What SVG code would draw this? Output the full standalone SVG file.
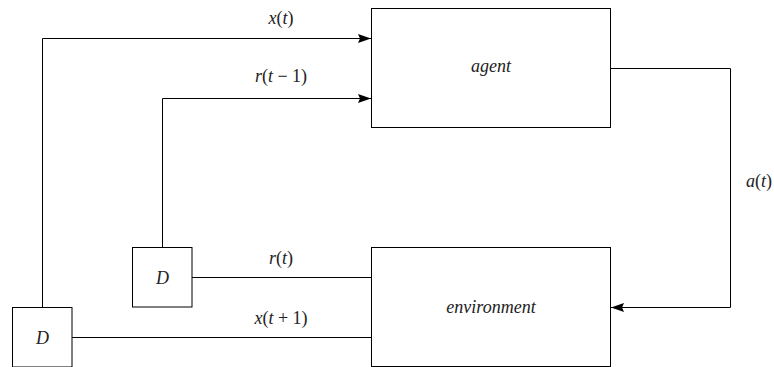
<svg xmlns="http://www.w3.org/2000/svg" width="774" height="367" viewBox="0 0 774 367">
<style>
.box{fill:#fff;stroke:#000;stroke-width:1}
.ln{fill:none;stroke:#000;stroke-width:1}
text{font-family:"Liberation Serif","Times New Roman",serif;font-size:18px;fill:#222;text-anchor:middle}
.i{font-style:italic}
</style>
<defs>
<marker id="arr" markerWidth="14" markerHeight="10" refX="13" refY="4.5" orient="auto" markerUnits="userSpaceOnUse">
<path d="M0,0 L13,4.5 L0,9 L2,4.5 Z" fill="#000"/>
</marker>
</defs>
<g id="connectors">
<polyline class="ln" points="42.5,307 42.5,38.5 371,38.5" marker-end="url(#arr)"/>
<polyline class="ln" points="162.5,247.5 162.5,98.5 371,98.5" marker-end="url(#arr)"/>
<polyline class="ln" points="610.5,68.5 730.5,68.5 730.5,307.5 611,307.5" marker-end="url(#arr)"/>
<line class="ln" x1="192" y1="277.5" x2="371.5" y2="277.5"/>
<line class="ln" x1="72" y1="337.5" x2="371.5" y2="337.5"/>
<text x="281" y="24"><tspan class="i">x</tspan>(<tspan class="i">t</tspan>)</text>
<text x="281" y="82"><tspan class="i">r</tspan>(<tspan class="i">t</tspan> − 1)</text>
<text x="759" y="187"><tspan class="i">a</tspan>(<tspan class="i">t</tspan>)</text>
<text x="281" y="264"><tspan class="i">r</tspan>(<tspan class="i">t</tspan>)</text>
<text x="281" y="324"><tspan class="i">x</tspan>(<tspan class="i">t</tspan> + 1)</text>
</g>
<g id="agent">
<rect class="box" x="371.5" y="8.5" width="239" height="119"/>
<text class="i" x="491" y="72">agent</text>
</g>
<g id="environment">
<rect class="box" x="371.5" y="247.5" width="239" height="119"/>
<text class="i" x="491" y="313">environment</text>
</g>
<g id="delay-r">
<rect class="box" x="132.5" y="247.5" width="59.5" height="59.5"/>
<text class="i" x="162.5" y="284">D</text>
</g>
<g id="delay-x">
<rect class="box" x="12.5" y="307.5" width="59.5" height="59.5"/>
<text class="i" x="42.5" y="344">D</text>
</g>
</svg>
